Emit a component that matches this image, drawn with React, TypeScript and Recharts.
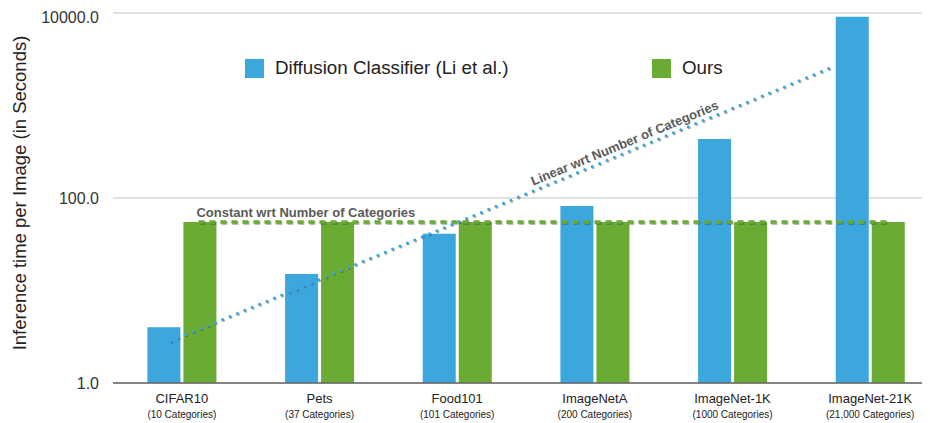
import { BarChart, Bar, XAxis, YAxis, CartesianGrid, ReferenceLine } from 'recharts';

const categories = ['CIFAR10', 'Pets', 'Food101', 'ImageNetA', 'ImageNet-1K', 'ImageNet-21K'];
const subLabels = [
  '(10 Categories)',
  '(37 Categories)',
  '(101 Categories)',
  '(200 Categories)',
  '(1000 Categories)',
  '(21,000 Categories)',
];
const diffusionTimes = [4.0, 15.1, 41, 82, 434, 9100];
const oursTimes = [55, 55, 55, 55, 55, 55];
const yTicks = [1, 100, 10000];

// trend annotations, x along the plot width (0..5), y in seconds
const linearTrend = [
  { x: 0.35, y: 2.85 },
  { x: 4.355, y: 2610 },
];
const constantTrend = [
  { x: 0.517, y: 55 },
  { x: 4.694, y: 55 },
];

const BLUE = '#3ba7dd';
const GREEN = '#6aab34';
const FONT = '"Liberation Sans", Arial, Helvetica, sans-serif';
const SHADOW = { filter: 'drop-shadow(1px 1.5px 0.6px rgba(60,60,60,0.45))' };

const data = categories.map((name, i) => ({
  name,
  sub: subLabels[i],
  diffusion: diffusionTimes[i],
  ours: oursTimes[i],
}));

function CategoryTick({ x, y, payload }: any) {
  const idx = payload.index;
  return (
    <g transform={`translate(${x},${y})`}>
      <text x={0} y={12} textAnchor="middle" fontSize={13} fill="#222" fontFamily={FONT}>
        {payload.value}
      </text>
      <text x={0} y={27} textAnchor="middle" fontSize={10} fill="#222" fontFamily={FONT}>
        {subLabels[idx]}
      </text>
    </g>
  );
}

function LinearLabel({ viewBox }: any) {
  if (!viewBox) return null;
  const { x, y, width, height } = viewBox;
  const x1 = x;
  const y1 = y + height;
  const x2 = x + width;
  const y2 = y;
  const t = 0.686;
  const px = x1 + t * (x2 - x1);
  const py = y1 + t * (y2 - y1) - 10;
  const angle = (Math.atan2(y2 - y1, x2 - x1) * 180) / Math.PI;
  return (
    <text
      x={0}
      y={0}
      transform={`translate(${px},${py}) rotate(${angle})`}
      textAnchor="middle"
      dominantBaseline="central"
      fontSize={13}
      fontWeight="bold"
      fill="#5a5a5a"
      fontFamily={FONT}
    >
      Linear wrt Number of Categories
    </text>
  );
}

function ConstantLabel({ viewBox }: any) {
  if (!viewBox) return null;
  const { x, y } = viewBox;
  return (
    <text
      x={x - 2}
      y={y - 10}
      dominantBaseline="central"
      fontSize={13}
      fontWeight="bold"
      fill="#5a5a5a"
      fontFamily={FONT}
    >
      Constant wrt Number of Categories
    </text>
  );
}

function AxisTitle() {
  return (
    <text
      x={0}
      y={0}
      transform={`translate(11,185) rotate(-90)`}
      textAnchor="middle"
      dominantBaseline="central"
      fontSize={18.5}
      fill="#222"
      fontFamily={FONT}
    >
      Inference time per Image (in Seconds)
    </text>
  );
}

export default function App() {
  return (
    <div style={{ position: 'relative', width: 922, height: 415, overflow: 'hidden', fontFamily: FONT }}>
      <BarChart
        width={931}
        height={415}
        data={data}
        margin={{ top: 5, right: 0, bottom: 5, left: 0 }}
        barCategoryGap="25%"
        barGap={3}
      >
        <CartesianGrid vertical={false} stroke="#d6d6d6" strokeWidth={1.5} />
        <XAxis
          dataKey="name"
          height={35}
          tick={<CategoryTick />}
          tickLine={false}
          axisLine={{ stroke: '#666', strokeWidth: 1.5 }}
          interval={0}
        />
        <XAxis xAxisId="n" type="number" domain={[0, 5]} hide allowDataOverflow />
        <YAxis
          scale="log"
          domain={[1, 10000]}
          ticks={yTicks}
          allowDataOverflow
          width={105}
          axisLine={false}
          tickLine={false}
          tickSize={6}
          tickMargin={8}
          tickFormatter={(v: number) => v.toFixed(1)}
          tick={{ fontSize: 16, fill: '#333', fontFamily: FONT }}
          label={<AxisTitle />}
        />
        <Bar dataKey="diffusion" fill={BLUE} isAnimationActive={false} />
        <Bar dataKey="ours" fill={GREEN} isAnimationActive={false} />
        <ReferenceLine
          xAxisId="n"
          segment={constantTrend}
          stroke={GREEN}
          strokeWidth={3.5}
          strokeDasharray="6 5"
          ifOverflow="visible"
          style={SHADOW}
          label={<ConstantLabel />}
        />
        <ReferenceLine
          xAxisId="n"
          segment={linearTrend}
          stroke={BLUE}
          strokeWidth={3}
          strokeDasharray="0 8"
          strokeLinecap="round"
          ifOverflow="visible"
          style={SHADOW}
          label={<LinearLabel />}
        />
      </BarChart>
      <div
        style={{
          position: 'absolute',
          top: 49,
          left: 237,
          display: 'flex',
          alignItems: 'center',
          fontSize: 18.8,
          color: '#222',
        }}
      >
        <div style={{ display: 'flex', alignItems: 'center', width: 407 }}>
          <span style={{ width: 19, height: 19, background: BLUE, marginRight: 11 }} />
          <span>Diffusion Classifier (Li et al.)</span>
        </div>
        <div style={{ display: 'flex', alignItems: 'center' }}>
          <span style={{ width: 19, height: 19, background: GREEN, marginRight: 11 }} />
          <span>Ours</span>
        </div>
      </div>
    </div>
  );
}
